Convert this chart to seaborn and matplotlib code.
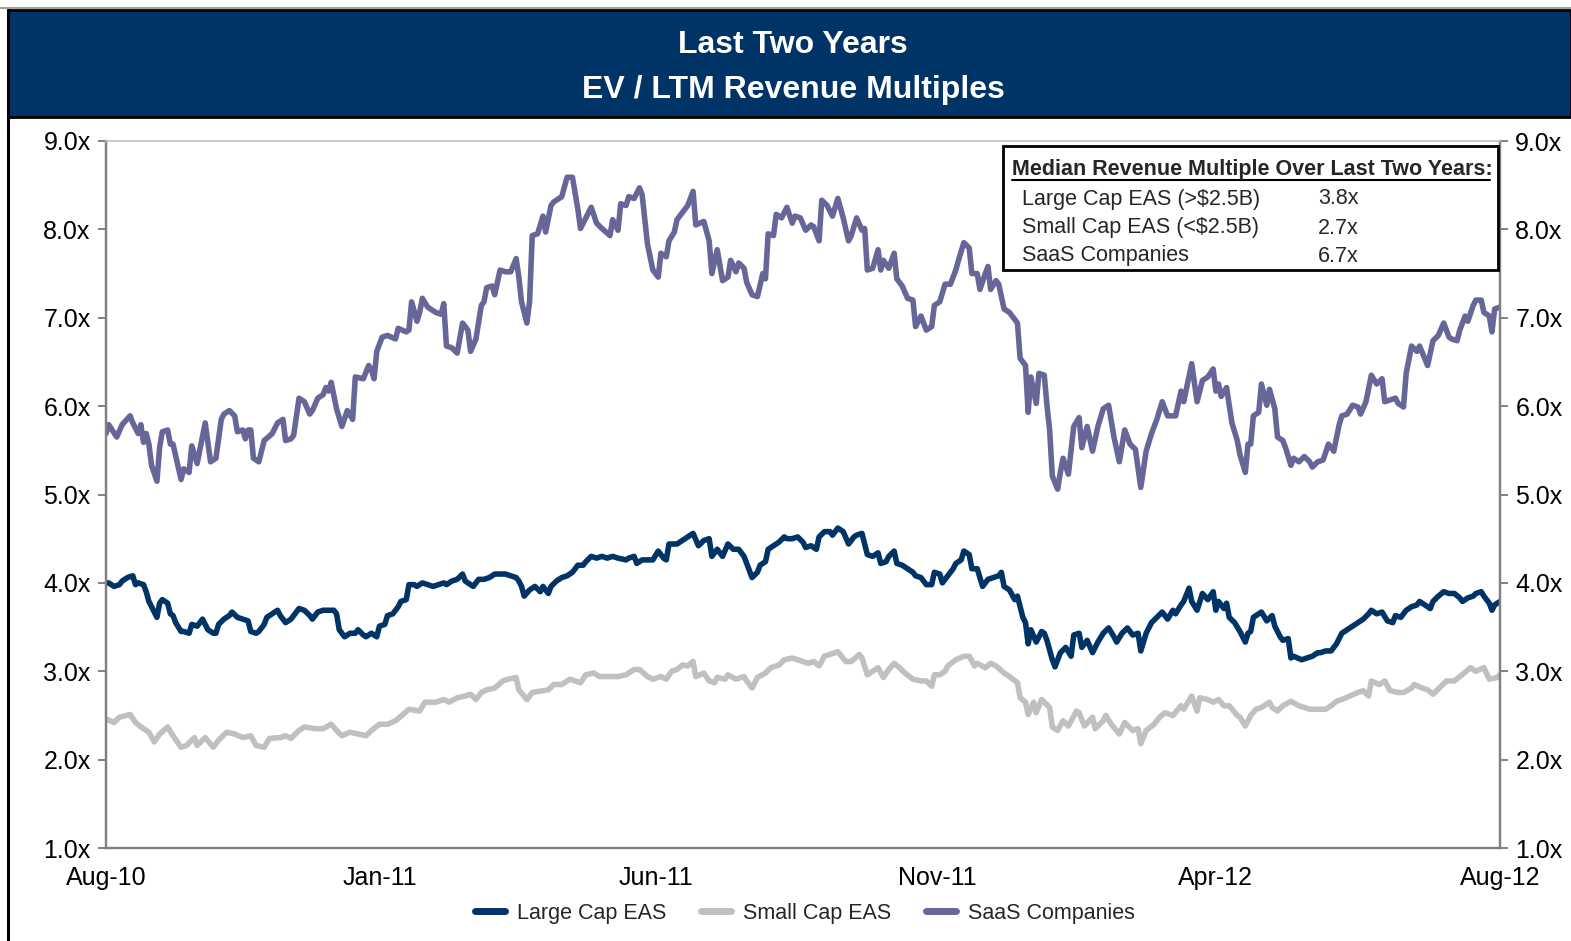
import matplotlib
matplotlib.use("Agg")
import matplotlib.pyplot as plt
import seaborn as sns
import pandas as pd
from matplotlib.patches import Rectangle
from matplotlib.lines import Line2D

# trading-day index (0 = Aug-10, 520 = Aug-12) and EV / LTM revenue multiple
large_day = [0, 1, 3, 5, 6, 8, 10, 11, 12, 14, 15, 16, 18, 19, 20, 21, 23, 24, 25, 26, 28, 29, 31, 32, 34, 36, 38, 40, 41, 42,
             44, 46, 47, 49, 51, 53, 54, 56, 57, 59, 60, 62, 64, 65, 67, 69, 70, 72, 74, 76, 77, 79, 81, 83, 85, 86, 87, 89, 91, 93,
             94, 96, 97, 99, 101, 102, 104, 105, 107, 109, 110, 112, 113, 115, 116, 118, 120, 122, 124, 126, 127, 129, 131, 133, 134, 136, 137, 139, 141, 143,
             145, 147, 149, 151, 153, 154, 155, 156, 158, 160, 162, 163, 165, 166, 168, 170, 172, 174, 176, 178, 179, 181, 183, 185, 187, 189, 191, 194, 195, 197,
             198, 200, 202, 204, 206, 208, 209, 210, 213, 215, 217, 219, 221, 223, 225, 226, 228, 230, 232, 234, 236, 238, 239, 241, 243, 244, 246, 247, 249, 251,
             253, 254, 256, 258, 260, 261, 263, 265, 266, 268, 270, 271, 273, 275, 277, 279, 280, 282, 284, 286, 288, 289, 291, 292, 294, 295, 297, 299, 301, 302,
             304, 306, 308, 309, 311, 312, 314, 316, 317, 319, 320, 322, 323, 325, 327, 329, 331, 333, 334, 335, 337, 339, 340, 342, 343, 344, 345, 347, 349, 350,
             351, 353, 354, 356, 358, 360, 361, 363, 364, 366, 368, 370, 372, 374, 376, 377, 379, 381, 383, 385, 386, 388, 390, 392, 394, 396, 398, 399, 401, 402,
             404, 405, 407, 409, 411, 413, 414, 415, 417, 418, 419, 421, 423, 425, 426, 427, 428, 430, 431, 433, 435, 436, 438, 439, 441, 442, 443, 446, 448, 450,
             452, 453, 455, 457, 459, 461, 463, 466, 467, 469, 471, 472, 474, 476, 478, 480, 481, 483, 485, 487, 489, 490, 492, 494, 495, 497, 499, 501, 503, 505,
             506, 508, 510, 511, 513, 514, 516, 517, 518, 520]
large_val = [4.00, 4.00, 3.96, 3.98, 4.02, 4.06, 4.08, 3.98, 4.00, 3.98, 3.90, 3.79, 3.67, 3.61, 3.77, 3.81, 3.77, 3.65, 3.63, 3.55, 3.45, 3.45, 3.43, 3.53, 3.51, 3.59, 3.47, 3.43, 3.43, 3.53,
             3.59, 3.63, 3.67, 3.61, 3.59, 3.57, 3.45, 3.43, 3.45, 3.53, 3.61, 3.65, 3.69, 3.63, 3.55, 3.59, 3.63, 3.71, 3.69, 3.63, 3.59, 3.67, 3.69, 3.69, 3.69, 3.65, 3.47, 3.39, 3.43, 3.43,
             3.47, 3.41, 3.39, 3.43, 3.39, 3.51, 3.53, 3.63, 3.65, 3.73, 3.79, 3.81, 3.98, 3.98, 3.96, 4.00, 3.98, 3.96, 3.98, 4.00, 3.98, 4.02, 4.04, 4.10, 4.02, 3.98, 3.96, 4.04, 4.04, 4.06,
             4.10, 4.10, 4.10, 4.08, 4.06, 4.02, 3.96, 3.85, 3.92, 3.96, 3.90, 3.96, 3.88, 3.96, 4.02, 4.06, 4.08, 4.12, 4.20, 4.20, 4.24, 4.30, 4.28, 4.30, 4.28, 4.30, 4.28, 4.26, 4.28, 4.30,
             4.22, 4.26, 4.26, 4.26, 4.36, 4.28, 4.26, 4.44, 4.44, 4.48, 4.52, 4.56, 4.42, 4.48, 4.50, 4.30, 4.38, 4.30, 4.44, 4.38, 4.38, 4.30, 4.22, 4.06, 4.12, 4.20, 4.24, 4.38, 4.42, 4.46,
             4.52, 4.50, 4.50, 4.52, 4.46, 4.40, 4.42, 4.38, 4.52, 4.58, 4.58, 4.54, 4.62, 4.58, 4.44, 4.52, 4.54, 4.56, 4.32, 4.30, 4.34, 4.22, 4.24, 4.30, 4.36, 4.22, 4.20, 4.16, 4.12, 4.08,
             4.06, 3.98, 3.98, 4.12, 4.10, 4.00, 4.08, 4.16, 4.22, 4.26, 4.36, 4.32, 4.16, 4.16, 3.96, 4.04, 4.06, 4.08, 4.12, 3.96, 3.92, 3.81, 3.85, 3.61, 3.55, 3.31, 3.47, 3.33, 3.45, 3.43,
             3.35, 3.13, 3.05, 3.21, 3.27, 3.17, 3.41, 3.43, 3.27, 3.35, 3.21, 3.33, 3.43, 3.49, 3.39, 3.33, 3.43, 3.49, 3.41, 3.43, 3.23, 3.43, 3.55, 3.61, 3.67, 3.59, 3.69, 3.65, 3.75, 3.79,
             3.94, 3.79, 3.69, 3.88, 3.81, 3.90, 3.69, 3.79, 3.71, 3.77, 3.61, 3.55, 3.45, 3.33, 3.43, 3.45, 3.61, 3.65, 3.67, 3.57, 3.63, 3.51, 3.39, 3.35, 3.37, 3.15, 3.17, 3.13, 3.15, 3.17,
             3.21, 3.21, 3.23, 3.23, 3.31, 3.43, 3.47, 3.53, 3.55, 3.59, 3.65, 3.69, 3.65, 3.67, 3.57, 3.55, 3.63, 3.61, 3.69, 3.73, 3.75, 3.79, 3.75, 3.71, 3.79, 3.85, 3.90, 3.88, 3.88, 3.83,
             3.79, 3.83, 3.85, 3.88, 3.90, 3.85, 3.77, 3.69, 3.75, 3.79]

small_day = [0, 3, 5, 9, 11, 13, 16, 18, 20, 23, 25, 28, 30, 33, 34, 37, 40, 42, 45, 48, 51, 54, 56, 59, 61, 65, 67, 69, 72, 74,
             78, 81, 84, 86, 88, 91, 94, 97, 99, 102, 105, 108, 110, 113, 117, 119, 123, 126, 128, 131, 134, 136, 138, 140, 142, 145, 148, 150, 153, 154,
             157, 159, 163, 165, 167, 170, 173, 177, 179, 182, 184, 188, 191, 194, 197, 199, 202, 204, 207, 209, 211, 213, 215, 217, 219, 220, 223, 225, 227, 228,
             231, 232, 235, 238, 239, 241, 243, 246, 248, 251, 253, 256, 260, 262, 264, 266, 268, 270, 273, 276, 278, 281, 282, 284, 286, 288, 290, 292, 294, 296,
             298, 301, 304, 306, 308, 309, 311, 313, 314, 317, 320, 322, 324, 325, 328, 330, 332, 335, 337, 340, 341, 343, 344, 346, 347, 349, 352, 353, 355, 357,
             359, 362, 363, 365, 368, 369, 372, 373, 375, 378, 380, 383, 385, 386, 388, 391, 393, 395, 398, 401, 402, 405, 407, 408, 411, 413, 415, 417, 419, 422,
             423, 425, 427, 429, 431, 434, 435, 437, 439, 442, 445, 447, 449, 452, 455, 457, 459, 461, 464, 467, 469, 471, 472, 475, 477, 479, 482, 484, 487, 488,
             491, 493, 495, 498, 500, 503, 505, 509, 511, 514, 516, 519, 520]
small_val = [2.46, 2.42, 2.48, 2.51, 2.42, 2.37, 2.31, 2.20, 2.29, 2.37, 2.27, 2.14, 2.16, 2.25, 2.16, 2.25, 2.14, 2.22, 2.31, 2.29, 2.25, 2.27, 2.16, 2.14, 2.24, 2.25, 2.27, 2.24, 2.33, 2.37,
             2.35, 2.35, 2.40, 2.33, 2.27, 2.31, 2.29, 2.27, 2.33, 2.40, 2.40, 2.44, 2.49, 2.57, 2.55, 2.65, 2.65, 2.68, 2.65, 2.70, 2.72, 2.74, 2.68, 2.76, 2.79, 2.81, 2.89, 2.91, 2.93, 2.79,
             2.68, 2.76, 2.78, 2.79, 2.85, 2.85, 2.91, 2.87, 2.96, 2.98, 2.94, 2.94, 2.94, 2.96, 3.02, 3.02, 2.94, 2.91, 2.94, 2.91, 3.00, 3.02, 3.07, 3.06, 3.11, 2.94, 2.98, 2.89, 2.87, 2.93,
             2.91, 2.96, 2.91, 2.94, 2.89, 2.81, 2.93, 2.98, 3.04, 3.07, 3.13, 3.15, 3.11, 3.09, 3.11, 3.06, 3.17, 3.19, 3.22, 3.11, 3.11, 3.19, 3.15, 2.96, 3.00, 3.04, 2.93, 3.02, 3.09, 3.04,
             2.98, 2.91, 2.89, 2.89, 2.83, 2.96, 2.96, 3.00, 3.06, 3.13, 3.17, 3.17, 3.06, 3.09, 3.04, 3.09, 3.06, 2.98, 2.94, 2.87, 2.70, 2.65, 2.51, 2.65, 2.53, 2.68, 2.59, 2.37, 2.33, 2.44,
             2.38, 2.55, 2.53, 2.38, 2.48, 2.35, 2.44, 2.50, 2.40, 2.29, 2.42, 2.33, 2.35, 2.18, 2.33, 2.40, 2.48, 2.53, 2.50, 2.61, 2.57, 2.72, 2.55, 2.70, 2.68, 2.65, 2.68, 2.61, 2.61, 2.50,
             2.48, 2.38, 2.50, 2.57, 2.59, 2.65, 2.59, 2.55, 2.61, 2.66, 2.61, 2.59, 2.57, 2.57, 2.57, 2.61, 2.66, 2.68, 2.72, 2.76, 2.78, 2.72, 2.89, 2.85, 2.89, 2.78, 2.76, 2.76, 2.81, 2.85,
             2.81, 2.79, 2.74, 2.83, 2.89, 2.89, 2.94, 3.04, 3.00, 3.04, 2.91, 2.93, 2.96]

saas_day = [0, 1, 4, 6, 9, 10, 12, 13, 14, 15, 16, 17, 19, 20, 21, 23, 24, 25, 28, 29, 31, 32, 34, 37, 39, 41, 43, 44, 46, 48,
            49, 51, 52, 53, 54, 55, 57, 59, 62, 64, 66, 67, 69, 70, 72, 74, 76, 77, 79, 81, 82, 83, 84, 86, 88, 90, 92, 93, 96, 98,
            99, 100, 101, 103, 105, 108, 109, 112, 113, 114, 116, 117, 118, 120, 123, 125, 126, 127, 129, 131, 133, 135, 136, 138, 140, 141, 142, 144, 145, 147,
            149, 151, 153, 154, 155, 157, 158, 159, 161, 163, 164, 166, 167, 170, 172, 174, 176, 177, 179, 181, 183, 185, 188, 189, 191, 192, 194, 195, 197, 199,
            200, 202, 204, 206, 207, 209, 210, 212, 213, 215, 217, 219, 220, 223, 225, 226, 228, 230, 232, 233, 235, 236, 238, 239, 241, 243, 245, 246, 247, 249,
            250, 252, 254, 256, 257, 259, 261, 263, 264, 266, 267, 269, 271, 273, 275, 277, 278, 280, 282, 283, 284, 286, 288, 289, 290, 292, 294, 295, 297, 299,
            301, 302, 304, 306, 308, 309, 311, 313, 315, 317, 318, 320, 322, 323, 325, 326, 328, 329, 330, 332, 333, 335, 337, 339, 340, 341, 343, 344, 345, 347,
            348, 350, 351, 352, 353, 355, 356, 357, 359, 361, 363, 364, 366, 368, 370, 372, 374, 376, 378, 380, 382, 384, 386, 388, 390, 392, 394, 396, 399, 401,
            402, 405, 407, 409, 411, 413, 414, 415, 416, 418, 420, 422, 423, 425, 426, 427, 428, 430, 431, 433, 434, 436, 437, 439, 440, 442, 443, 445, 447, 449,
            450, 452, 454, 456, 458, 460, 461, 463, 465, 467, 468, 470, 472, 474, 476, 477, 479, 481, 482, 484, 485, 487, 489, 490, 493, 495, 497, 499, 501, 502,
            504, 505, 507, 508, 510, 511, 513, 514, 516, 517, 518, 520]
saas_val = [5.69, 5.79, 5.65, 5.79, 5.89, 5.81, 5.69, 5.79, 5.59, 5.69, 5.57, 5.33, 5.15, 5.53, 5.71, 5.73, 5.57, 5.57, 5.17, 5.29, 5.25, 5.55, 5.35, 5.81, 5.37, 5.41, 5.85, 5.91, 5.95, 5.89,
            5.71, 5.73, 5.63, 5.73, 5.73, 5.41, 5.37, 5.61, 5.69, 5.81, 5.85, 5.61, 5.63, 5.67, 6.09, 6.05, 5.91, 5.95, 6.09, 6.13, 6.21, 6.17, 6.27, 5.97, 5.77, 5.95, 5.85, 6.33, 6.31, 6.46,
            6.41, 6.31, 6.62, 6.78, 6.80, 6.76, 6.88, 6.84, 6.86, 7.18, 6.96, 7.06, 7.22, 7.12, 7.06, 7.04, 7.16, 6.68, 6.66, 6.60, 6.94, 6.86, 6.62, 6.76, 7.14, 7.18, 7.34, 7.36, 7.26, 7.54,
            7.52, 7.52, 7.67, 7.46, 7.18, 6.94, 7.18, 7.93, 7.95, 8.15, 7.97, 8.27, 8.31, 8.37, 8.59, 8.59, 8.23, 8.01, 8.13, 8.25, 8.07, 8.01, 7.93, 8.11, 7.99, 8.29, 8.27, 8.37, 8.35, 8.47,
            8.39, 7.83, 7.54, 7.46, 7.73, 7.69, 7.87, 7.97, 8.11, 8.19, 8.27, 8.43, 8.05, 8.09, 7.87, 7.50, 7.77, 7.42, 7.46, 7.65, 7.52, 7.62, 7.56, 7.40, 7.26, 7.24, 7.50, 7.44, 7.95, 7.93,
            8.17, 8.13, 8.25, 8.07, 8.15, 8.13, 7.99, 8.05, 8.03, 7.87, 8.33, 8.27, 8.15, 8.35, 8.13, 7.87, 7.93, 8.13, 7.99, 8.01, 7.54, 7.56, 7.77, 7.54, 7.65, 7.56, 7.73, 7.44, 7.36, 7.22,
            7.20, 6.90, 7.02, 6.86, 6.90, 7.14, 7.18, 7.38, 7.38, 7.54, 7.65, 7.85, 7.79, 7.50, 7.50, 7.32, 7.50, 7.58, 7.32, 7.42, 7.38, 7.10, 7.06, 6.98, 6.94, 6.54, 6.46, 5.93, 6.33, 6.03,
            6.37, 6.35, 6.01, 5.73, 5.21, 5.06, 5.25, 5.41, 5.23, 5.77, 5.87, 5.53, 5.77, 5.49, 5.77, 5.97, 6.01, 5.65, 5.37, 5.73, 5.57, 5.51, 5.08, 5.49, 5.69, 5.85, 6.05, 5.89, 5.89, 6.17,
            6.05, 6.48, 6.05, 6.29, 6.33, 6.42, 6.17, 6.25, 6.11, 6.21, 5.81, 5.61, 5.45, 5.25, 5.57, 5.57, 5.89, 5.93, 6.25, 6.01, 6.19, 5.97, 5.65, 5.61, 5.53, 5.33, 5.41, 5.37, 5.43, 5.37,
            5.31, 5.37, 5.39, 5.57, 5.49, 5.79, 5.89, 5.91, 6.01, 5.99, 5.91, 6.05, 6.35, 6.25, 6.31, 6.05, 6.07, 6.09, 6.03, 5.99, 6.37, 6.68, 6.62, 6.68, 6.46, 6.74, 6.80, 6.94, 6.78, 6.76,
            6.74, 6.86, 7.02, 6.96, 7.14, 7.20, 7.20, 7.06, 7.02, 6.84, 7.10, 7.12]

series_names = ["Large Cap EAS", "Small Cap EAS", "SaaS Companies"]
series_colors = ["#003366", "#C0C0C0", "#666699"]

tick_days = [0, 102, 205, 310, 414, 520]
tick_labels = ["Aug-10", "Jan-11", "Jun-11", "Nov-11", "Apr-12", "Aug-12"]
y_ticks = [1, 2, 3, 4, 5, 6, 7, 8, 9]

title_lines = ["Last Two Years", "EV / LTM Revenue Multiples"]
median_title = "Median Revenue Multiple Over Last Two Years:"
median_labels = ["Large Cap EAS (>$2.5B)", "Small Cap EAS (<$2.5B)", "SaaS Companies"]
median_values = [3.8, 2.7, 6.7]

sns.set_style("white")
plt.rcParams["font.family"] = ["Liberation Sans", "DejaVu Sans"]

W, H = 1571, 941
fig = plt.figure(figsize=(W / 100, H / 100), dpi=100)
ax = fig.add_axes([106 / W, 1 - 848 / H, 1394 / W, 707 / H])

frames = []
for name, d, v in zip(series_names, [large_day, small_day, saas_day], [large_val, small_val, saas_val]):
    frames.append(pd.DataFrame({"day": d, "multiple": v, "series": name}))
df = pd.concat(frames, ignore_index=True)

sns.lineplot(data=df, x="day", y="multiple", hue="series", hue_order=series_names,
             palette=dict(zip(series_names, series_colors)), estimator=None,
             lw=4.0, legend=False, ax=ax)

ax.set_xlim(0, 520)
ax.set_ylim(1, 9)
ax.set_xticks(tick_days)
ax.set_xticklabels(tick_labels)
ax.set_yticks(y_ticks)
ax.set_yticklabels([f"{t:.1f}x" for t in y_ticks])
ax.set_xlabel("")
ax.set_ylabel("")

ax2 = ax.twinx()
ax2.set_ylim(1, 9)
ax2.set_yticks(y_ticks)
ax2.set_yticklabels([f"{t:.1f}x" for t in y_ticks])

axis_grey = "#808080"
for a in (ax, ax2):
    for side in ["left", "right", "bottom"]:
        a.spines[side].set_color(axis_grey)
        a.spines[side].set_linewidth(1.6)
    a.spines["top"].set_color("#C8C8C8")
    a.spines["top"].set_linewidth(1.2)
    a.tick_params(axis="both", direction="out", length=6, width=1.4, color=axis_grey,
                  labelsize=18, pad=5, labelcolor="black")
ax.tick_params(axis="x", pad=7)

# title banner
fig.add_artist(Line2D([0, 1], [1 - 8 / H, 1 - 8 / H], transform=fig.transFigure, color="#A0A0A0", lw=1.5))
fig.add_artist(Rectangle((8 / W, 1 - 117 / H), 1 - 8 / W, 107 / H, transform=fig.transFigure,
                         facecolor="#003366", edgecolor="black", lw=2))
fig.add_artist(Line2D([8 / W, 8 / W], [0, 1 - 10 / H], transform=fig.transFigure, color="black", lw=2.2))
for line, py in zip(title_lines, [45, 90]):
    fig.text(793 / W, 1 - py / H, line, ha="center", va="center", color="white",
             fontsize=23, fontweight="bold")

# median box
fig.add_artist(Rectangle((1003 / W, 1 - 270 / H), 495 / W, 124 / H, transform=fig.transFigure,
                         facecolor="white", edgecolor="black", lw=2, zorder=5))
fig.text(1012 / W, 1 - 170 / H, median_title, ha="left", va="center", fontsize=15.5,
         fontweight="bold", zorder=6, parse_math=False)
fig.add_artist(Line2D([1012 / W, 1490 / W], [1 - 180 / H, 1 - 180 / H], transform=fig.transFigure,
                      color="black", lw=1.5, zorder=6))
for lab, val, py in zip(median_labels, median_values, [199, 228, 256]):
    fig.text(1022 / W, 1 - py / H, lab, ha="left", va="center", fontsize=15.5, zorder=6, parse_math=False)
    fig.text(1318 / W, 1 - py / H, f"{val:.1f}x", ha="left", va="center", fontsize=15.5, zorder=6)

handles = [Line2D([], [], color=c, lw=5) for c in series_colors]
fig.legend(handles, series_names, loc="center", bbox_to_anchor=(805 / W, 1 - 913 / H), ncol=3,
           frameon=False, fontsize=15.5, handlelength=1.4, handletextpad=0.55, columnspacing=1.6)

fig.savefig("out.png", dpi=100)
